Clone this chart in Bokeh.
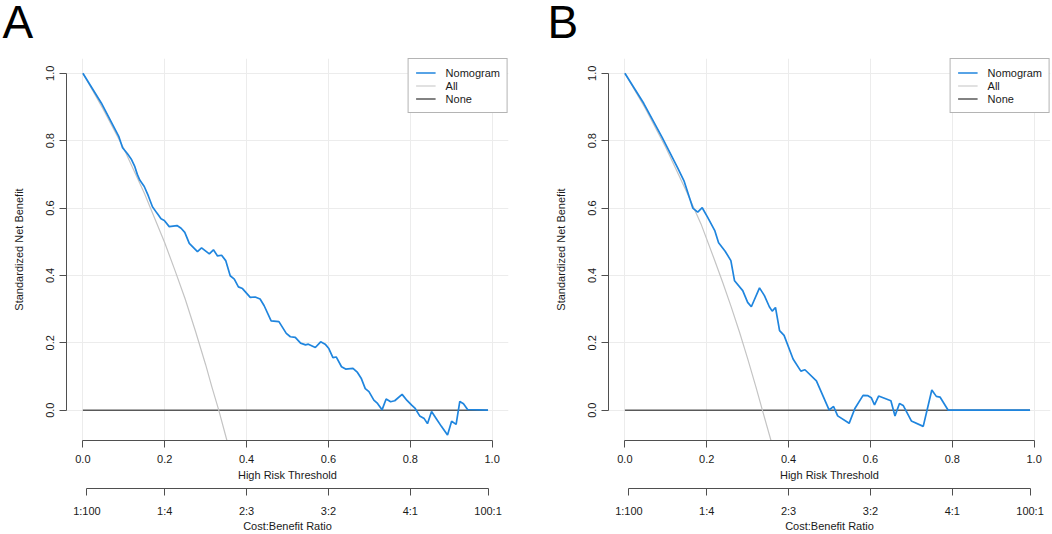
from bokeh.plotting import figure
from bokeh.models import (Range1d, LinearAxis, FixedTicker, CustomJSTickFormatter,
                          Legend, LegendItem)
from bokeh.layouts import row, column
from bokeh.embed import file_html
from bokeh.resources import INLINE
from bokeh.core.properties import value

FONT = "Liberation Sans"

# ---------------- data ----------------
threshold_ticks = [0.0, 0.2, 0.4, 0.6, 0.8, 1.0]
threshold_labels = ["0.0", "0.2", "0.4", "0.6", "0.8", "1.0"]
nb_ticks = [0.0, 0.2, 0.4, 0.6, 0.8, 1.0]
nb_labels = ["0.0", "0.2", "0.4", "0.6", "0.8", "1.0"]
cb_ticks = [0.01, 0.2, 0.4, 0.6, 0.8, 0.99]
cb_labels = ["1:100", "1:4", "2:3", "3:2", "4:1", "100:1"]
series_names = ["Nomogram", "All", "None"]
panel_letters = ["A", "B"]

a_nom_x = [0.000, 0.045, 0.088, 0.097, 0.109, 0.118, 0.127, 0.133, 0.139, 0.150,
           0.160, 0.170, 0.181, 0.191, 0.199, 0.211, 0.230, 0.240, 0.249, 0.260,
           0.280, 0.290, 0.309, 0.319, 0.329, 0.339, 0.349, 0.360, 0.370, 0.380,
           0.390, 0.409, 0.421, 0.433, 0.443, 0.460, 0.479, 0.497, 0.507, 0.519,
           0.532, 0.544, 0.551, 0.568, 0.581, 0.592, 0.601, 0.611, 0.619, 0.632,
           0.642, 0.660, 0.671, 0.680, 0.690, 0.699, 0.711, 0.720, 0.731, 0.741,
           0.752, 0.762, 0.780, 0.792, 0.804, 0.812, 0.823, 0.834, 0.842, 0.852,
           0.864, 0.876, 0.891, 0.901, 0.912, 0.921, 0.930, 0.940, 0.990]
a_nom_y = [1.000, 0.912, 0.812, 0.779, 0.761, 0.746, 0.723, 0.700, 0.683, 0.664,
           0.636, 0.604, 0.585, 0.568, 0.563, 0.545, 0.548, 0.540, 0.528, 0.495,
           0.471, 0.482, 0.464, 0.476, 0.458, 0.460, 0.444, 0.399, 0.389, 0.366,
           0.361, 0.335, 0.336, 0.330, 0.310, 0.265, 0.263, 0.228, 0.218, 0.216,
           0.199, 0.194, 0.196, 0.186, 0.203, 0.196, 0.183, 0.156, 0.158, 0.129,
           0.122, 0.124, 0.112, 0.095, 0.064, 0.055, 0.030, 0.020, 0.001, 0.033,
           0.025, 0.028, 0.047, 0.029, 0.014, 0.005, -0.017, -0.025, -0.040, -0.004,
           -0.026, -0.048, -0.074, -0.033, -0.042, 0.026, 0.019, 0.002, 0.000]
a_all_x = [0.0, 0.05, 0.10, 0.15, 0.20, 0.225, 0.25, 0.275, 0.30, 0.315, 0.332, 0.352]
a_all_y = [1.0, 0.893, 0.777, 0.645, 0.497, 0.415, 0.330, 0.235, 0.135, 0.070, 0.0, -0.09]

b_nom_x = [0.000, 0.046, 0.091, 0.129, 0.145, 0.166, 0.178, 0.189, 0.202, 0.220,
           0.229, 0.245, 0.259, 0.268, 0.288, 0.300, 0.309, 0.329, 0.341, 0.353,
           0.360, 0.368, 0.378, 0.389, 0.411, 0.430, 0.440, 0.468, 0.499, 0.510,
           0.520, 0.548, 0.562, 0.582, 0.594, 0.602, 0.610, 0.620, 0.650, 0.660,
           0.671, 0.680, 0.700, 0.729, 0.750, 0.761, 0.770, 0.790, 0.990]
b_nom_y = [1.000, 0.911, 0.810, 0.719, 0.679, 0.600, 0.588, 0.601, 0.573, 0.532,
           0.497, 0.472, 0.444, 0.384, 0.355, 0.320, 0.307, 0.363, 0.340, 0.307,
           0.294, 0.305, 0.236, 0.222, 0.152, 0.116, 0.120, 0.087, 0.001, 0.011,
           -0.017, -0.039, 0.005, 0.044, 0.043, 0.037, 0.016, 0.042, 0.028, -0.017,
           0.020, 0.014, -0.032, -0.048, 0.060, 0.041, 0.039, 0.000, 0.000]
b_all_x = [0.0, 0.05, 0.10, 0.15, 0.186, 0.22, 0.24, 0.26, 0.28, 0.30, 0.32, 0.336, 0.357]
b_all_y = [1.0, 0.896, 0.780, 0.651, 0.553, 0.443, 0.376, 0.306, 0.232, 0.153, 0.070, 0.0, -0.09]

none_x = [0.0, 0.99]
none_y = [0.0, 0.0]

# ---------------- style ----------------
C_NOM = "#1f85de"
C_ALL = "#c4c4c4"
C_NONE = "#595959"
C_AXIS = "#4f4f4f"
C_TEXT = "#1a1a1a"
C_GRID = "#ececec"

LETTER_H = 46
MAIN_H = 534 - LETTER_H

JS = """
let best = 0, d = Infinity;
for (let i = 0; i < tvals.length; i++) {
  const e = Math.abs(tvals[i] - tick);
  if (e < d) { d = e; best = i; }
}
return tlabels[best];
"""


def fmt(ticks, labels):
    return CustomJSTickFormatter(args=dict(tvals=ticks, tlabels=labels), code=JS)


def style_axis(ax):
    ax.axis_line_color = C_AXIS
    ax.axis_line_width = 1
    ax.major_tick_line_color = C_AXIS
    ax.major_tick_out = 7
    ax.major_tick_in = 0
    ax.minor_tick_out = 0
    ax.minor_tick_in = 0
    ax.minor_tick_line_color = None
    ax.major_label_text_font = FONT
    ax.major_label_text_font_size = "11px"
    ax.major_label_text_color = C_TEXT
    ax.axis_label_text_font = FONT
    ax.axis_label_text_font_size = "11px"
    ax.axis_label_text_font_style = "normal"
    ax.axis_label_text_color = C_TEXT


def letter_fig(letter, width, x_px):
    f = figure(width=width, height=LETTER_H, title=None,
               x_range=Range1d(0, width), y_range=Range1d(0, LETTER_H),
               x_axis_type=None, y_axis_type=None,
               min_border_left=0, min_border_right=0,
               min_border_top=0, min_border_bottom=0,
               frame_align=False,
               output_backend="svg", toolbar_location=None)
    f.outline_line_color = None
    f.grid.visible = False
    f.background_fill_color = "white"
    f.border_fill_color = "white"
    f.text(x=[x_px], y=[LETTER_H - 21.5], text=[letter], text_font=value(FONT),
           text_font_size="46px", text_color="black",
           text_align="left", text_baseline="middle")
    return f


def make_panel(nom_x, nom_y, all_x, all_y, width, border_right):
    left, top = 66, 58 - LETTER_H
    p = figure(width=width, height=MAIN_H, title=None,
               x_range=Range1d(-0.04, 1.04), y_range=Range1d(-0.09, 1.044),
               min_border_left=left, min_border_right=border_right,
               min_border_top=top, min_border_bottom=0,
               frame_align=False,
               output_backend="svg", toolbar_location=None)
    p.outline_line_color = None
    p.background_fill_color = "white"
    p.border_fill_color = "white"

    # grid
    p.xgrid.ticker = FixedTicker(ticks=threshold_ticks)
    p.ygrid.ticker = FixedTicker(ticks=nb_ticks)
    for g in (p.xgrid, p.ygrid):
        g.grid_line_color = C_GRID
        g.grid_line_width = 1

    # y axis
    ya = p.yaxis[0]
    style_axis(ya)
    ya.ticker = FixedTicker(ticks=nb_ticks)
    ya.formatter = fmt(nb_ticks, nb_labels)
    ya.bounds = (0, 1)
    ya.major_label_orientation = "vertical"
    ya.major_label_standoff = 5
    ya.axis_label = "Standardized Net Benefit"
    ya.axis_label_standoff = 19

    # x axis (threshold)
    xa = p.xaxis[0]
    style_axis(xa)
    xa.ticker = FixedTicker(ticks=threshold_ticks)
    xa.formatter = fmt(threshold_ticks, threshold_labels)
    xa.bounds = (0, 1)
    xa.major_label_standoff = 7
    xa.axis_label = "High Risk Threshold"
    xa.axis_label_standoff = 3

    # spacer between the two bottom axes
    sp = LinearAxis(ticker=FixedTicker(ticks=[1.03]), major_tick_out=5, major_tick_in=0,
                    minor_tick_out=0, minor_tick_in=0,
                    axis_line_color="white", major_tick_line_color="white",
                    minor_tick_line_color=None, major_label_standoff=0,
                    major_label_text_font_size="1px", major_label_text_color="white",
                    formatter=CustomJSTickFormatter(code="return ''"))
    p.add_layout(sp, "below")

    # cost:benefit axis
    cb = LinearAxis()
    style_axis(cb)
    cb.ticker = FixedTicker(ticks=cb_ticks)
    cb.formatter = fmt(cb_ticks, cb_labels)
    cb.bounds = (cb_ticks[0], cb_ticks[-1])
    cb.major_label_standoff = 9
    cb.axis_label = "Cost:Benefit Ratio"
    cb.axis_label_standoff = 0
    p.add_layout(cb, "below")

    # lines
    r_none = p.line(none_x, none_y, line_color=C_NONE, line_width=1.4)
    r_all = p.line(all_x, all_y, line_color=C_ALL, line_width=1.2)
    r_nom = p.line(nom_x, nom_y, line_color=C_NOM, line_width=1.7)

    legend = Legend(items=[LegendItem(label=series_names[0], renderers=[r_nom]),
                           LegendItem(label=series_names[1], renderers=[r_all]),
                           LegendItem(label=series_names[2], renderers=[r_none])],
                    location="top_right", margin=0, padding=7, spacing=0,
                    glyph_width=20, glyph_height=13, label_height=13,
                    label_standoff=10, label_text_font=FONT,
                    label_text_font_size="11px", label_text_color=C_TEXT,
                    border_line_color="#6a6a6a", border_line_width=1,
                    background_fill_color="white", background_fill_alpha=1.0)
    p.add_layout(legend)
    return p


WA, WB = 542, 510
la = letter_fig(panel_letters[0], WA, 2)
lb = letter_fig(panel_letters[1], WB, 5)
pa = make_panel(a_nom_x, a_nom_y, a_all_x, a_all_y, WA, 34)
pb = make_panel(b_nom_x, b_nom_y, b_all_x, b_all_y, WB, 2)

layout = row(column(la, pa), column(lb, pb))
open("out.html", "w").write(file_html(layout, INLINE))
